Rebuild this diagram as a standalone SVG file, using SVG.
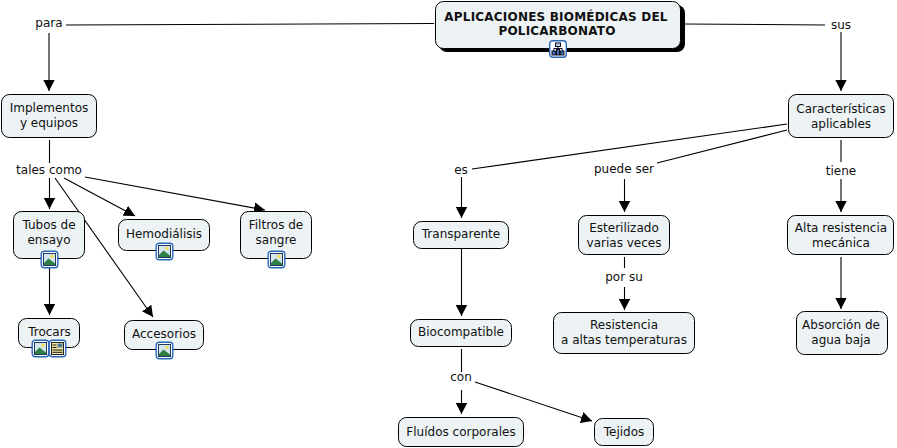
<svg xmlns="http://www.w3.org/2000/svg" width="897" height="448" viewBox="0 0 897 448">
<style>
text{font-family:"DejaVu Sans",Verdana,sans-serif;font-size:12px;fill:#111;text-anchor:middle}
.n{fill:#edf3f5;stroke:#000;stroke-width:1}
.c line{stroke:#000;stroke-width:1.1;fill:none}
.b{font-weight:bold;letter-spacing:.2px}
</style>
<defs>
<marker id="a" markerUnits="userSpaceOnUse" markerWidth="12" markerHeight="12" refX="11" refY="6" orient="auto"><path d="M0 0.300L11 6L0 11.700Z" fill="#000"/></marker>
<symbol id="pic" viewBox="0 0 18 18" overflow="visible">
<rect x="0.7" y="0.7" width="16.600" height="16.600" rx="3" fill="#fff" stroke="#2a66b8" stroke-width="1.4"/>
<rect x="3" y="3" width="12" height="12" fill="#d5e6ef" stroke="#1f3a5e" stroke-width="1"/>
<circle cx="11.500" cy="6" r="1.700" fill="#f2dc50"/>
<path d="M3.500 14.500V12.500L8 8L14.500 13V14.500Z" fill="#2f7f45"/>
</symbol>
<symbol id="doc" viewBox="0 0 18 18" overflow="visible">
<rect x="0.7" y="0.7" width="16.600" height="16.600" rx="3" fill="#fff" stroke="#2a66b8" stroke-width="1.4"/>
<rect x="3" y="3" width="12" height="12" fill="#f6eca0" stroke="#222" stroke-width="1"/>
<rect x="9" y="4" width="5" height="4" fill="#4f7a9c"/>
<path d="M4 5.500h4M4 8h4M4 10.500h10M4 12.800h10" stroke="#111" stroke-width="1" fill="none"/>
</symbol>
<symbol id="map" viewBox="0 0 18 18" overflow="visible">
<rect x="0.7" y="0.7" width="16.600" height="16.600" rx="3" fill="#fff" stroke="#2a66b8" stroke-width="1.4"/>
<rect x="6.500" y="3" width="5" height="3.500" fill="#bcd0ea" stroke="#112" stroke-width="1"/>
<rect x="3" y="11" width="3.600" height="4" fill="#3f6fb0" stroke="#112" stroke-width="1"/>
<rect x="11.400" y="11" width="3.600" height="4" fill="#3f6fb0" stroke="#112" stroke-width="1"/>
<rect x="7.500" y="9.500" width="3" height="5.500" fill="#3f6fb0" stroke="#112" stroke-width="1"/>
<path d="M9 6.500V9.500M4.800 11V8.500H13.200V11" stroke="#112" stroke-width="1" fill="none"/>
</symbol>
</defs>
<g class="c" id="connectors">
<line x1="434" y1="23.500" x2="66" y2="25"/>
<line x1="49" y1="33" x2="49" y2="91" marker-end="url(#a)"/>
<line x1="684" y1="24" x2="825" y2="25"/>
<line x1="841" y1="32" x2="841" y2="91" marker-end="url(#a)"/>
<line x1="49.500" y1="140" x2="49.500" y2="163"/>
<line x1="49.500" y1="178" x2="49.500" y2="209" marker-end="url(#a)"/>
<line x1="64" y1="178" x2="135" y2="216" marker-end="url(#a)"/>
<line x1="55" y1="178" x2="153" y2="317" marker-end="url(#a)"/>
<line x1="85" y1="177" x2="265" y2="210" marker-end="url(#a)"/>
<line x1="49.500" y1="267" x2="49.500" y2="315" marker-end="url(#a)"/>
<line x1="787" y1="124" x2="472" y2="169"/>
<line x1="461.500" y1="177" x2="461.500" y2="218" marker-end="url(#a)"/>
<line x1="787" y1="130" x2="657" y2="163"/>
<line x1="624.500" y1="179" x2="624.500" y2="212" marker-end="url(#a)"/>
<line x1="841" y1="140" x2="841" y2="162"/>
<line x1="841" y1="179" x2="841" y2="212" marker-end="url(#a)"/>
<line x1="461.500" y1="249" x2="461.500" y2="316" marker-end="url(#a)"/>
<line x1="624.500" y1="257" x2="624.500" y2="268"/>
<line x1="624.500" y1="287" x2="624.500" y2="310" marker-end="url(#a)"/>
<line x1="841" y1="257" x2="841" y2="309" marker-end="url(#a)"/>
<line x1="461.500" y1="349" x2="461.500" y2="372"/>
<line x1="461.500" y1="390" x2="461.500" y2="414" marker-end="url(#a)"/>
<line x1="475" y1="382" x2="592" y2="421" marker-end="url(#a)"/>
</g>
<g id="labels">
<text x="49" y="27">para</text>
<text x="841" y="29">sus</text>
<text x="49" y="174">tales como</text>
<text x="461" y="174">es</text>
<text x="624" y="173">puede ser</text>
<text x="841" y="175">tiene</text>
<text x="624" y="281">por su</text>
<text x="461" y="381">con</text>
</g>
<g id="root">
<rect x="439" y="5" width="246" height="47" rx="8" fill="#000"/>
<rect class="n" x="435.500" y="1.500" width="245" height="47" rx="8"/>
<text class="b" x="556" y="21">APLICACIONES BIOMÉDICAS DEL</text>
<text class="b" x="557" y="35">POLICARBONATO</text>
<use href="#map" x="549" y="40" width="18" height="18"/>
</g>
<g id="implementos"><rect class="n" x="1.500" y="94.500" width="95" height="43" rx="8"/><text x="49" y="112">Implementos</text><text x="49" y="127">y equipos</text></g>
<g id="caracteristicas"><rect class="n" x="788.500" y="94.500" width="105" height="43" rx="8"/><text x="841" y="113">Características</text><text x="841" y="128">aplicables</text></g>
<g id="tubos"><rect class="n" x="13.500" y="211.500" width="71" height="47" rx="8"/><text x="49" y="229">Tubos de</text><text x="49" y="244">ensayo</text><use href="#pic" x="40.500" y="250.500" width="18" height="18"/></g>
<g id="hemodialisis"><rect class="n" x="118.500" y="219.500" width="91" height="31" rx="8"/><text x="164" y="238">Hemodiálisis</text><use href="#pic" x="155.500" y="242.500" width="18" height="18"/></g>
<g id="filtros"><rect class="n" x="240.500" y="211.500" width="71" height="47" rx="8"/><text x="276" y="229">Filtros de</text><text x="276" y="244">sangre</text><use href="#pic" x="267.500" y="250.500" width="18" height="18"/></g>
<g id="trocars"><rect class="n" x="18.500" y="318.500" width="61" height="29" rx="8"/><text x="49.500" y="336">Trocars</text><use href="#pic" x="31.500" y="339.500" width="18" height="18"/><use href="#doc" x="48.500" y="339.500" width="18" height="18"/></g>
<g id="accesorios"><rect class="n" x="124.500" y="320.500" width="79" height="29" rx="8"/><text x="164" y="338">Accesorios</text><use href="#pic" x="155.500" y="341.500" width="18" height="18"/></g>
<g id="transparente"><rect class="n" x="413.500" y="221.500" width="95" height="27" rx="8"/><text x="461" y="238">Transparente</text></g>
<g id="esterilizado"><rect class="n" x="578.500" y="215.500" width="91" height="39" rx="8"/><text x="624" y="232">Esterilizado</text><text x="624" y="247">varias veces</text></g>
<g id="alta"><rect class="n" x="787.500" y="215.500" width="106" height="39" rx="8"/><text x="841" y="232">Alta resistencia</text><text x="841" y="247">mecánica</text></g>
<g id="biocompatible"><rect class="n" x="410.500" y="319.500" width="101" height="27" rx="8"/><text x="461" y="336">Biocompatible</text></g>
<g id="resistencia"><rect class="n" x="553.500" y="312.500" width="141" height="41" rx="8"/><text x="624" y="329">Resistencia</text><text x="624" y="344">a altas temperaturas</text></g>
<g id="absorcion"><rect class="n" x="796.500" y="311.500" width="91" height="43" rx="8"/><text x="841" y="329">Absorción de</text><text x="841" y="344">agua baja</text></g>
<g id="fluidos"><rect class="n" x="398.500" y="417.500" width="125" height="29" rx="8"/><text x="461" y="436">Fluídos corporales</text></g>
<g id="tejidos"><rect class="n" x="594.500" y="418.500" width="59" height="27" rx="8"/><text x="624" y="436">Tejidos</text></g>
</svg>
